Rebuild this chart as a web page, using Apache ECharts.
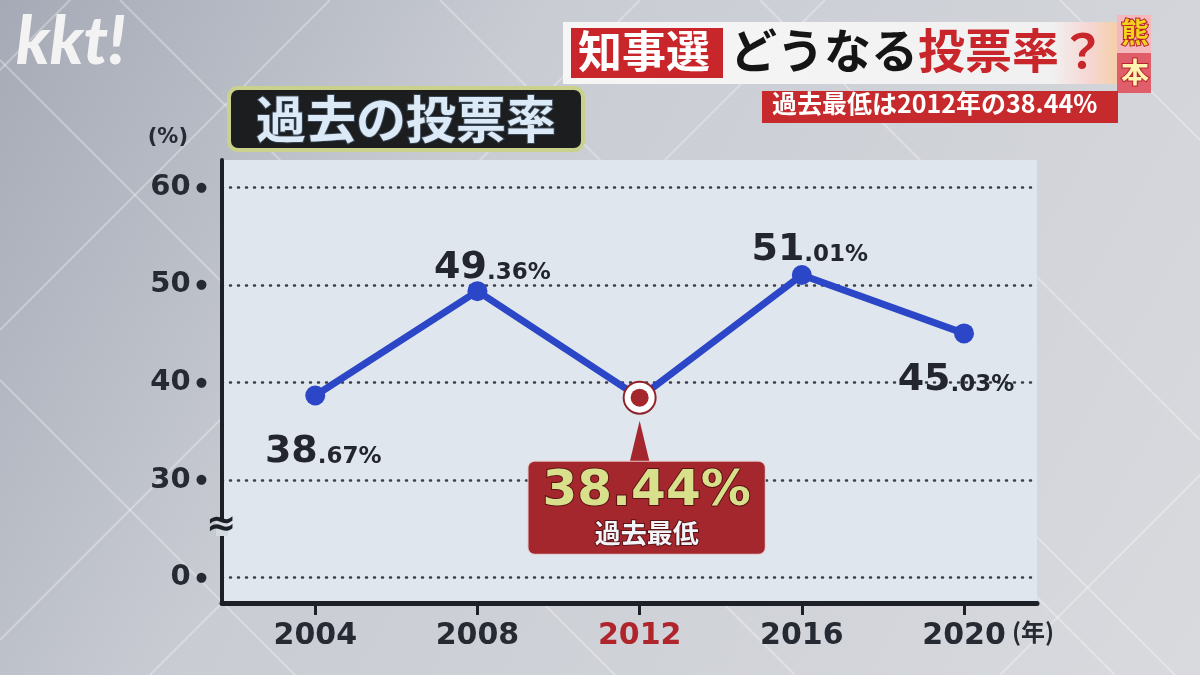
<!DOCTYPE html>
<html><head><meta charset="utf-8">
<script src="https://cdn.jsdelivr.net/npm/echarts@6/dist/echarts.min.js"></script>
<style>html,body{margin:0;padding:0;}#c{width:1200px;height:675px;}</style>
</head><body><div id="c"></div>
<script>
const years = [2004, 2008, 2012, 2016, 2020];
const rates = [38.67, 49.36, 38.44, 51.01, 45.03];
const yTicks = [20, 30, 40, 50, 60];
const yTickLabels = ['0', '30', '40', '50', '60'];
const lowestYear = 2012;
const lowestRate = 38.44;

const JP = '"Noto Sans CJK JP", "Noto Sans", sans-serif';
const NUM = '"DejaVu Sans", "Noto Sans", sans-serif';

function splitLabel(v) {
  const s = v.toFixed(2).split('.');
  return '{a|' + s[0] + '}{b|.' + s[1] + '%}';
}
const numRich = {
  a: {fontFamily: NUM, fontSize: 38, fontWeight: 'bold', color: '#23262e'},
  b: {fontFamily: NUM, fontSize: 23, fontWeight: 'bold', color: '#23262e', padding: [9, 0, 0, 0]}
};
const labelPlace = {
  2004: {position: 'bottom', distance: 28, offset: [8, 0]},
  2008: {position: 'top', distance: -4, offset: [15, 2]},
  2016: {position: 'top', distance: -4, offset: [8, 0]},
  2020: {position: 'bottom', distance: 16, offset: [-8, 2]}
};

const lineData = years.map((y, i) => {
  if (y === lowestYear) {
    return {value: [y, rates[i]], symbolSize: 0, label: {show: false}};
  }
  const p = labelPlace[y];
  return {
    value: [y, rates[i]],
    label: {show: true, position: p.position, distance: p.distance, offset: p.offset,
      formatter: (q) => splitLabel(q.value[1]), rich: numRich}
  };
});

const chart = echarts.init(document.getElementById('c'));

const bgLines = [
  [[-50, 120], [200, -130]], [[0, 330], [330, 0]], [[0, 640], [640, 0]], [[150, 675], [825, 0]],
  [[0, 60], [615, 675]], [[120, 0], [795, 675]], [[440, 0], [1115, 675]], [[760, 0], [1200, 440]],
  [[1000, 675], [1200, 475]], [[1060, 0], [1200, 140]], [[0, 380], [295, 675]], [[1200, 700], [700, 200]]
].map(pts => ({type: 'polyline', silent: true, z: -10,
  shape: {points: pts}, style: {stroke: 'rgba(255,255,255,0.3)', lineWidth: 2}}));

chart.setOption({
  backgroundColor: {
    type: 'linear', x: 0, y: 0, x2: 1, y2: 1,
    colorStops: [{offset: 0, color: '#a5aab6'}, {offset: 0.35, color: '#c9ccd3'}, {offset: 1, color: '#d8dade'}]
  },
  animation: false,
  title: {
    text: '過去の投票率', left: 230, top: 88,
    backgroundColor: '#1c1d1f', borderColor: '#c9d18c', borderWidth: 4, borderRadius: 9,
    padding: [3, 26, 3, 26],
    textStyle: {fontFamily: JP, fontSize: 50, fontWeight: 'bold', color: '#dce9f6', lineHeight: 56,
      textBorderColor: '#3a4654', textBorderWidth: 2}
  },
  grid: {left: 222, right: 163, top: 160, bottom: 72, show: true, backgroundColor: '#dfe6ee', borderWidth: 0},
  xAxis: {
    type: 'value', min: 2001.7, max: 2021.8,
    axisLine: {show: true, onZero: false, lineStyle: {color: '#1e2027', width: 5}},
    axisTick: {show: true, length: 12, customValues: years, lineStyle: {color: '#1e2027', width: 3}},
    splitLine: {show: false},
    axisLabel: {
      customValues: years, margin: 18,
      formatter: (v) => v === lowestYear ? '{r|' + v + '}' : '{n|' + v + '}',
      rich: {
        n: {fontFamily: NUM, fontSize: 30, fontWeight: 'bold', color: '#262a33'},
        r: {fontFamily: NUM, fontSize: 30, fontWeight: 'bold', color: '#b0252c'}
      }
    }
  },
  yAxis: {
    type: 'value', min: 17.4, max: 62.8,
    name: '(%)', nameLocation: 'end', nameGap: 12,
    nameTextStyle: {fontFamily: NUM, fontSize: 21, fontWeight: 'bold', color: '#262a33', align: 'right', verticalAlign: 'bottom', padding: [0, 34, 0, 0]},
    axisLine: {show: true, onZero: false, lineStyle: {color: '#1e2027', width: 4}},
    axisTick: {show: false, customValues: yTicks},
    splitLine: {show: true, lineStyle: {color: '#3a3e48', width: 2.5, type: [1, 7], cap: 'round'}},
    axisLabel: {
      customValues: yTicks, margin: 15,
      formatter: (v) => '{n|' + yTickLabels[yTicks.indexOf(v)] + '}{d|●}',
      rich: {
        n: {fontFamily: NUM, fontSize: 29, fontWeight: 'bold', color: '#262a33'},
        d: {fontFamily: NUM, fontSize: 13, color: '#262a33', padding: [0, 0, 0, 5]}
      }
    }
  },
  graphic: bgLines.concat([
    {type: 'text', left: 16, top: 10, z: 5,
      style: {text: 'kkt!', fontFamily: 'Lato, "Noto Sans", sans-serif', fontSize: 66, fontWeight: 900, fontStyle: 'italic', fill: '#f3f3f3'}},
    {type: 'rect', left: 563, top: 22, z: 5, shape: {width: 555, height: 62},
      style: {fill: {type: 'linear', x: 0, y: 0, x2: 1, y2: 0, colorStops: [{offset: 0, color: '#f6f6f6'}, {offset: 0.88, color: '#f1f1f1'}, {offset: 0.95, color: '#f6d6d2'}, {offset: 1, color: '#f5cfa8'}]}}},
    {type: 'rect', left: 571, top: 28, z: 6, shape: {width: 152, height: 50}, style: {fill: '#c8262a'}},
    {type: 'text', left: 578, top: 29, z: 7,
      style: {text: '知事選', fontFamily: JP, fontSize: 44, fontWeight: 'bold', fill: '#ffffff'}},
    {type: 'text', left: 730, top: 27, z: 7,
      style: {text: '{k|どうなる}{r|投票率？}', rich: {
        k: {fontFamily: JP, fontSize: 47, fontWeight: 'bold', fill: '#151515'},
        r: {fontFamily: JP, fontSize: 47, fontWeight: 'bold', fill: '#c8262a'}}}},
    {type: 'rect', left: 1117, top: 15, z: 6, shape: {width: 34, height: 38}, style: {fill: '#f3b9bd'}},
    {type: 'rect', left: 1117, top: 53, z: 6, shape: {width: 34, height: 40}, style: {fill: '#e05d6a'}},
    {type: 'text', left: 1120, top: 17, z: 7,
      style: {text: '熊', fontFamily: JP, fontSize: 28, fontWeight: 'bold', fill: '#f2d21c', stroke: '#b8202c', lineWidth: 2}},
    {type: 'text', left: 1120, top: 57, z: 7,
      style: {text: '本', fontFamily: JP, fontSize: 28, fontWeight: 'bold', fill: '#fff4b0', stroke: '#b8202c', lineWidth: 2}},
    {type: 'rect', left: 762, top: 91, z: 6, shape: {width: 356, height: 32}, style: {fill: '#c62a2c'}},
    {type: 'text', left: 772, top: 91, z: 7,
      style: {text: '過去最低は2012年の38.44%', fontFamily: JP, fontSize: 25, fontWeight: 'bold', fill: '#ffffff'}},
    {type: 'rect', left: 216, top: 520, z: 19, shape: {width: 12, height: 16}, style: {fill: '#d5d9e0'}},
    {type: 'text', left: 206, top: 508, z: 20,
      style: {text: '≈', fontFamily: '"DejaVu Sans", sans-serif', fontSize: 36, fontWeight: 'bold', fill: '#1e2027'}},
    {type: 'text', left: 1012, top: 620, z: 5,
      style: {text: '(年)', fontFamily: JP, fontSize: 24, fontWeight: 'bold', fill: '#262a33'}}
  ]),
  series: [
    {
      type: 'line', data: lineData, z: 2,
      symbol: 'circle', symbolSize: 20,
      lineStyle: {color: '#2b46c6', width: 7},
      itemStyle: {color: '#2b46c6'}
    },
    {
      type: 'scatter', z: 3, data: [[lowestYear, lowestRate]],
      symbol: 'triangle', symbolSize: [26, 54], symbolOffset: [0, 50],
      itemStyle: {color: '#a3272d', opacity: 1}
    },
    {
      type: 'scatter', z: 4, data: [[lowestYear, lowestRate]],
      symbol: 'circle', symbolSize: 34, itemStyle: {color: '#8f2328', opacity: 1},
      label: {
        show: true, position: 'bottom', distance: 47, offset: [7, 0],
        formatter: '{big|38.44%}\n{sub|過去最低}',
        backgroundColor: '#a3272d', borderColor: '#e6c9c9', borderWidth: 1, borderRadius: 6,
        padding: [4, 14, 6, 14], align: 'center',
        rich: {
          big: {fontFamily: NUM, fontSize: 50, fontWeight: 'bold', color: '#d9e08c', lineHeight: 52,
            textBorderColor: '#5a1214', textBorderWidth: 2, align: 'center'},
          sub: {fontFamily: JP, fontSize: 26, fontWeight: 'bold', color: '#f2f4f8', lineHeight: 30,
            textBorderColor: '#5a1214', textBorderWidth: 2, align: 'center'}
        }
      }
    },
    {type: 'scatter', z: 5, data: [[lowestYear, lowestRate]], symbol: 'circle', symbolSize: 30, itemStyle: {color: '#ffffff', opacity: 1}},
    {type: 'scatter', z: 6, data: [[lowestYear, lowestRate]], symbol: 'circle', symbolSize: 18, itemStyle: {color: '#a3272d', opacity: 1}}
  ]
});
</script>
</body></html>
